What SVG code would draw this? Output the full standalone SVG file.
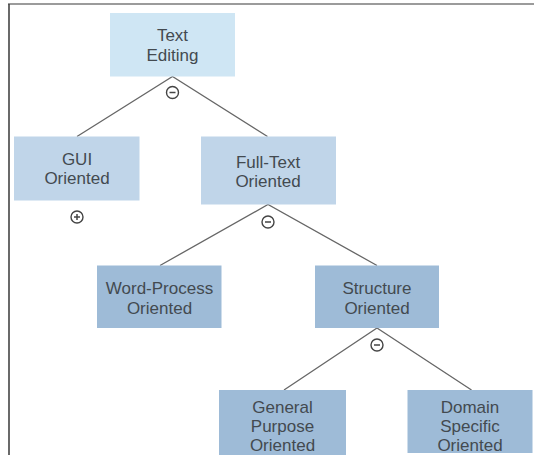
<svg xmlns="http://www.w3.org/2000/svg" width="534" height="455" viewBox="0 0 534 455">
<style>
.l1{fill:#cfe6f4}
.l2{fill:#c0d5e9}
.l3{fill:#9ebbd7}
.t{font-family:"Liberation Sans",Arial,sans-serif;font-size:17px;fill:#434a50;text-anchor:middle}
.c{stroke:#666;stroke-width:1.3;fill:none}
.sym{fill:#fff;stroke:#444;stroke-width:1.4}
.mk{stroke:#444;stroke-width:1.5}
</style>
<rect x="0" y="0" width="534" height="455" fill="#fff"/>
<line x1="8" y1="4" x2="534" y2="4" stroke="#7a7a7a" stroke-width="1.6"/>
<line x1="9" y1="4" x2="9" y2="455" stroke="#444" stroke-width="1.6"/>
<g id="connectors">
<polyline class="c" points="77,136.5 172.5,76.5 267.5,136.5"/>
<polyline class="c" points="160,265.5 268,204.5 377,265.5"/>
<polyline class="c" points="284,390 377,328 471.5,390"/>
<g id="sym-text-editing"><circle class="sym" cx="172.5" cy="92.5" r="6"/><line class="mk" x1="169.5" y1="92.5" x2="175.5" y2="92.5"/></g>
<g id="sym-gui"><circle class="sym" cx="77" cy="217" r="6"/><line class="mk" x1="74" y1="217" x2="80" y2="217"/><line class="mk" x1="77" y1="214" x2="77" y2="220"/></g>
<g id="sym-full-text"><circle class="sym" cx="268" cy="222" r="6"/><line class="mk" x1="265" y1="222" x2="271" y2="222"/></g>
<g id="sym-structure"><circle class="sym" cx="377" cy="345" r="6"/><line class="mk" x1="374" y1="345" x2="380" y2="345"/></g>
</g>
<g id="text-editing">
<rect class="l1" x="110" y="13" width="125" height="63.5"/>
<text class="t" x="172.5" y="41">Text</text>
<text class="t" x="172.5" y="60.5">Editing</text>
</g>
<g id="gui-oriented">
<rect class="l2" x="14" y="136.5" width="125.5" height="64"/>
<text class="t" x="77" y="165">GUI</text>
<text class="t" x="77" y="184">Oriented</text>
</g>
<g id="full-text-oriented">
<rect class="l2" x="201" y="136.5" width="135" height="68"/>
<text class="t" x="268" y="167.5">Full-Text</text>
<text class="t" x="268" y="186.5">Oriented</text>
</g>
<g id="word-process-oriented">
<rect class="l3" x="97" y="265.5" width="124.5" height="62.5"/>
<text class="t" x="159.5" y="294">Word-Process</text>
<text class="t" x="159.5" y="313.5">Oriented</text>
</g>
<g id="structure-oriented">
<rect class="l3" x="315" y="265.5" width="124" height="62.5"/>
<text class="t" x="377" y="294">Structure</text>
<text class="t" x="377" y="313.5">Oriented</text>
</g>
<g id="general-purpose-oriented">
<rect class="l3" x="219" y="390" width="127" height="65"/>
<text class="t" x="282.5" y="412.5">General</text>
<text class="t" x="282.5" y="432">Purpose</text>
<text class="t" x="282.5" y="451">Oriented</text>
</g>
<g id="domain-specific-oriented">
<rect class="l3" x="407.5" y="390" width="125" height="63"/>
<text class="t" x="470" y="412.5">Domain</text>
<text class="t" x="470" y="432">Specific</text>
<text class="t" x="470" y="451">Oriented</text>
</g>
</svg>
